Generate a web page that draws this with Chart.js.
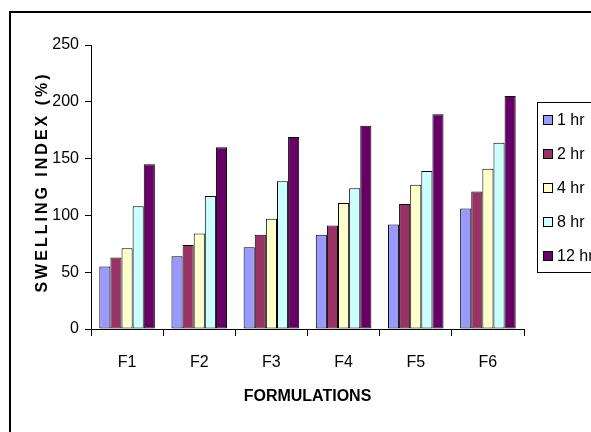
<!DOCTYPE html>
<html>
<head>
<meta charset="utf-8">
<script src="https://cdn.jsdelivr.net/npm/chart.js@4.4.1/dist/chart.umd.min.js"></script>
<style>
  html, body { margin: 0; padding: 0; background: #fff; }
  #wrap { width: 591px; height: 432px; position: relative; }
</style>
</head>
<body>
<div id="wrap"><canvas id="c" width="591" height="432"></canvas></div>
<script>
// Swelling index (%) of each formulation at successive time points
const formulations = ['F1', 'F2', 'F3', 'F4', 'F5', 'F6'];
const seriesNames = ['1 hr', '2 hr', '4 hr', '8 hr', '12 hr'];
const hr1  = [55, 64, 72, 83, 92, 106];
const hr2  = [63, 74, 83, 91, 110, 121];
const hr4  = [71, 84, 97, 111, 127, 141];
const hr8  = [108, 117, 130, 124, 139, 164];
const hr12 = [145, 160, 169, 179, 189, 205];
const yTicks = [0, 50, 100, 150, 200, 250];

const seriesValues = [hr1, hr2, hr4, hr8, hr12];
const seriesColors = ['#9999FF', '#993366', '#FFFFCC', '#CCFFFF', '#660066'];

const FONT = '"Liberation Sans", Arial, sans-serif';
Chart.defaults.font.family = FONT;
Chart.defaults.color = '#000';

// Outer frame, rotated y title and the boxed legend
const decorations = {
  id: 'decorations',
  afterDraw(chart) {
    const ctx = chart.ctx;
    ctx.save();
    // frame
    ctx.strokeStyle = '#000';
    ctx.lineWidth = 2;
    ctx.strokeRect(10, 12, 700, 600);

    // y axis title with spaced letters
    ctx.save();
    ctx.translate(47, 182);
    ctx.rotate(-Math.PI / 2);
    ctx.font = 'bold 16px ' + FONT;
    ctx.letterSpacing = '3px';
    ctx.textAlign = 'center';
    ctx.textBaseline = 'alphabetic';
    ctx.fillStyle = '#000';
    ctx.fillText('SWELLING INDEX (%)', 0, 0);
    ctx.restore();

    // legend
    ctx.lineWidth = 1;
    ctx.strokeStyle = '#000';
    ctx.strokeRect(537.5, 102.5, 100, 170);
    ctx.font = '16px ' + FONT;
    ctx.textBaseline = 'middle';
    ctx.textAlign = 'left';
    chart.data.datasets.forEach((ds, i) => {
      const cy = 120 + i * 34;
      ctx.fillStyle = ds.backgroundColor;
      ctx.fillRect(543.5, cy - 4.5, 9, 9);
      ctx.strokeRect(543.5, cy - 4.5, 9, 9);
      ctx.fillStyle = '#000';
      ctx.fillText(ds.label, 557, cy + 0.5);
    });
    ctx.restore();
  }
};

new Chart(document.getElementById('c'), {
  type: 'bar',
  data: {
    labels: formulations,
    datasets: seriesNames.map((name, i) => ({
      label: name,
      data: seriesValues[i],
      backgroundColor: seriesColors[i],
      borderColor: '#000',
      borderWidth: 1,
      borderSkipped: false,
      categoryPercentage: 0.77,
      barPercentage: 1.0
    }))
  },
  options: {
    responsive: false,
    animation: false,
    devicePixelRatio: 1,
    layout: { padding: { left: 0, right: 67, top: 45, bottom: 0 } },
    plugins: {
      legend: { display: false },
      tooltip: { enabled: false }
    },
    scales: {
      x: {
        offset: true,
        grid: {
          offset: true,
          drawOnChartArea: false,
          drawTicks: true,
          tickLength: 7,
          color: '#000'
        },
        border: { display: true, color: '#000', width: 1 },
        ticks: { font: { size: 16 }, padding: 17, color: '#000' },
        title: {
          display: true,
          text: 'FORMULATIONS',
          font: { size: 16, weight: 'bold' },
          padding: { top: 0, bottom: 26 },
          color: '#000'
        },
        afterFit(scale) { scale.height = 103; }
      },
      y: {
        min: 0,
        max: 250,
        afterBuildTicks(scale) {
          scale.ticks = yTicks.map(v => ({ value: v }));
        },
        grid: {
          drawOnChartArea: false,
          drawTicks: true,
          tickLength: 6,
          color: '#000'
        },
        border: { display: true, color: '#000', width: 1 },
        ticks: { font: { size: 16 }, padding: 6, color: '#000' },
        afterFit(scale) { scale.width = 91; }
      }
    }
  },
  plugins: [decorations]
});
</script>
</body>
</html>
